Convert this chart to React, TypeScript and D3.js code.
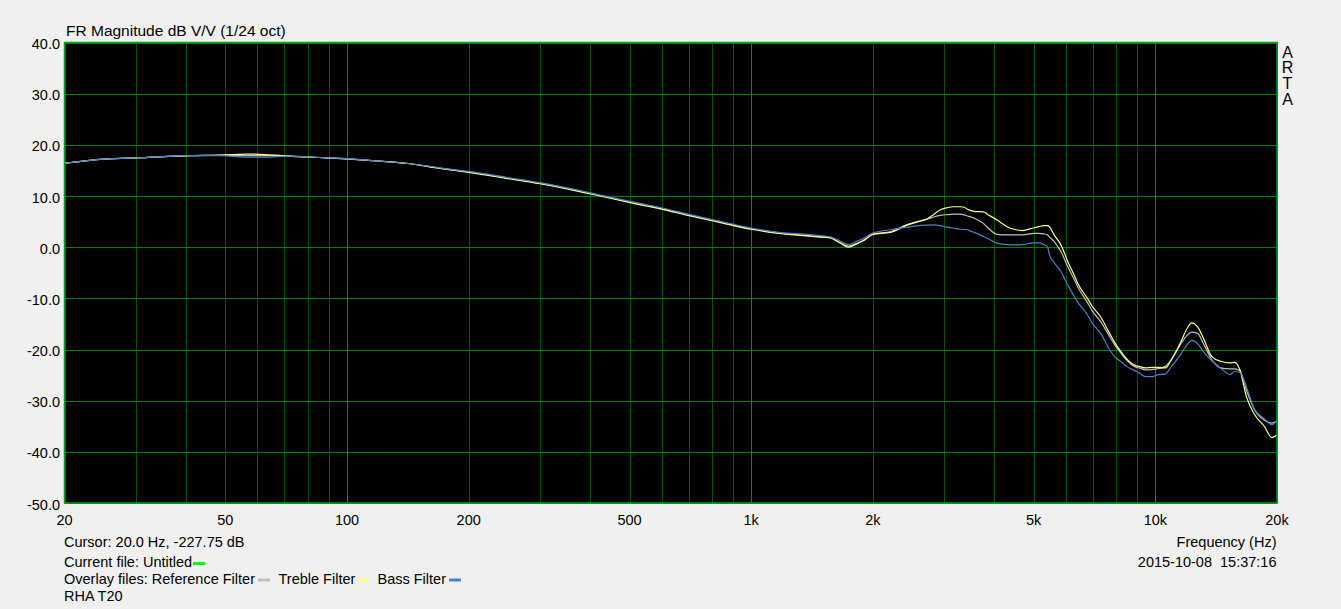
import React from "react";
import * as d3 from "d3";

const freqs = [20, 25, 31, 41, 49, 56, 63, 72, 87, 100, 116, 140, 170, 200, 250, 300, 350, 423, 502, 596, 707, 840, 1000, 1170, 1325, 1460, 1570, 1660, 1742, 1830, 1900, 2000, 2210, 2431, 2570, 2725, 2830, 2939, 3050, 3171, 3300, 3365, 3430, 3500, 3565, 3760, 3830, 4060, 4300, 4470, 4690, 5010, 5150, 5300, 5410, 5470, 5620, 5870, 6070, 6300, 6420, 6790, 7000, 7320, 7700, 8000, 8200, 8460, 8980, 9120, 9450, 9830, 10080, 10600, 10900, 11540, 12000, 12300, 12700, 13200, 13800, 14500, 15300, 15700, 16200, 16800, 17600, 18600, 19400, 20000];

const referenceFilter = [16.4, 17.2, 17.5, 17.9, 18.0, 17.9, 17.9, 17.8, 17.5, 17.25, 16.9, 16.4, 15.4, 14.7, 13.5, 12.5, 11.5, 10.1, 8.8, 7.6, 6.2, 4.9, 3.6, 2.8, 2.4, 2.1, 1.9, 0.9, 0.2, 0.8, 1.4, 2.6, 3.0, 4.4, 5.0, 5.5, 5.9, 6.2, 6.35, 6.45, 6.45, 6.3, 6.1, 5.9, 5.66, 4.6, 4.0, 2.5, 2.4, 2.4, 2.4, 2.7, 2.7, 2.6, 2.4, 2.0, 1.1, -1.2, -3.8, -6.3, -7.7, -10.8, -12.6, -14.5, -17.4, -19.5, -20.6, -21.9, -23.5, -23.6, -24.0, -23.9, -23.8, -23.3, -22.2, -19.0, -17.2, -16.6, -16.8, -19.1, -22.0, -23.6, -23.8, -23.8, -24.2, -27.9, -31.8, -33.8, -34.4, -34.0];

const trebleFilter = [16.4, 17.2, 17.5, 17.9, 18.0, 18.2, 18.1, 17.8, 17.5, 17.25, 16.9, 16.4, 15.4, 14.6, 13.4, 12.4, 11.4, 10.0, 8.7, 7.5, 6.1, 4.8, 3.5, 2.7, 2.3, 2.0, 1.8, 0.8, 0.0, 0.7, 1.3, 2.5, 2.9, 4.3, 4.9, 5.5, 6.4, 7.3, 7.7, 7.9, 7.9, 7.8, 7.4, 7.15, 7.0, 6.9, 6.5, 5.3, 4.0, 3.5, 3.25, 3.8, 4.0, 4.2, 4.2, 4.0, 2.4, 0.1, -2.8, -5.5, -7.0, -10.0, -11.7, -13.6, -16.8, -19.1, -20.3, -21.7, -23.2, -23.3, -23.6, -23.5, -23.5, -23.6, -22.3, -18.7, -15.8, -14.8, -15.5, -18.1, -21.4, -22.3, -22.6, -22.5, -24.0, -29.2, -32.7, -35.0, -37.2, -36.7];

const bassFilter = [16.4, 17.2, 17.5, 17.9, 17.9, 17.6, 17.6, 17.8, 17.5, 17.3, 16.9, 16.4, 15.5, 14.8, 13.6, 12.6, 11.6, 10.2, 8.95, 7.75, 6.35, 5.05, 3.75, 2.9, 2.6, 2.3, 2.0, 1.2, 0.5, 1.2, 1.75, 2.75, 3.4, 3.9, 4.16, 4.3, 4.35, 4.2, 3.9, 3.7, 3.5, 3.45, 3.4, 3.1, 2.9, 2.1, 1.8, 0.8, 0.5, 0.45, 0.5, 0.85, 0.85, 0.5, 0.1, -1.5, -3.0, -5.1, -7.4, -9.6, -10.7, -13.2, -15.0, -16.8, -20.0, -21.7, -22.3, -23.2, -24.3, -24.6, -25.3, -25.3, -25.0, -24.75, -23.6, -21.0, -19.0, -18.2, -18.8, -20.6, -22.2, -23.6, -24.9, -24.3, -24.5, -27.3, -31.7, -33.5, -34.7, -33.8];

const xTickValues = [20, 50, 100, 200, 500, 1000, 2000, 5000, 10000, 20000];
const xTickLabels = ["20", "50", "100", "200", "500", "1k", "2k", "5k", "10k", "20k"];
const yTickValues = [40, 30, 20, 10, 0, -10, -20, -30, -40, -50];
const yTickLabels = ["40.0", "30.0", "20.0", "10.0", "0.0", "-10.0", "-20.0", "-30.0", "-40.0", "-50.0"];
const gridFreqs = [20, 30, 40, 50, 60, 70, 80, 90, 100, 200, 300, 400, 500, 600, 700, 800, 900, 1000, 2000, 3000, 4000, 5000, 6000, 7000, 8000, 9000, 10000, 20000];
const decadeFreqs = [100, 1000, 10000];
const artaLetters = ["A", "R", "T", "A"];

const series = [
  { name: "Reference Filter", values: referenceFilter, color: "#c0c0c0" },
  { name: "Treble Filter", values: trebleFilter, color: "#ffff80" },
  { name: "Bass Filter", values: bassFilter, color: "#4a82c8" },
];

const FONT = "'Liberation Sans', Arial, sans-serif";

export default function App() {
  const L = 64.5, R = 1277, T = 42.5, B = 503;
  const x = d3.scaleLog().domain([20, 20000]).range([L, R]);
  const y = d3.scaleLinear().domain([-50, 40]).range([B, T]);
  const line = d3
    .line<number>()
    .x((_, i) => x(freqs[i]))
    .y((d) => y(d))
    .curve(d3.curveMonotoneX);

  return (
    <svg
      width={1341}
      height={609}
      style={{ position: "absolute", left: 0, top: 0, background: "#f0f0f0" }}
      fontFamily={FONT}
    >
      <rect x={0} y={0} width={1341} height={609} fill="#f0f0f0" />
      <rect x={L} y={T} width={R - L} height={B - T} fill="#000" />
      {gridFreqs.map((f) => (
        <line
          key={"v" + f}
          x1={Math.round(x(f)) + 0.5}
          x2={Math.round(x(f)) + 0.5}
          y1={T}
          y2={B}
          stroke={decadeFreqs.includes(f) ? "#009000" : "#005800"}
          strokeWidth={1}
        />
      ))}
      {yTickValues.map((v) => (
        <line
          key={"h" + v}
          x1={L}
          x2={R}
          y1={Math.round(y(v)) + 0.5}
          y2={Math.round(y(v)) + 0.5}
          stroke="#008000"
          strokeWidth={1}
        />
      ))}
      {series.map((s) => (
        <path key={s.name} d={line(s.values) || ""} fill="none" stroke={s.color} strokeWidth={1.2} />
      ))}
      <rect x={L} y={T} width={R - L} height={B - T} fill="none" stroke="#00a020" strokeWidth={1.5} />

      <text x={66} y={36} fontSize={15.5} fill="#000">FR Magnitude dB V/V (1/24 oct)</text>

      {yTickValues.map((v, i) => (
        <text key={"yl" + v} x={60} y={y(v) + 6.5} fontSize={14.5} textAnchor="end" fill="#000">
          {yTickLabels[i]}
        </text>
      ))}
      {xTickValues.map((v, i) => (
        <text key={"xl" + v} x={x(v)} y={525} fontSize={14.5} textAnchor="middle" fill="#000">
          {xTickLabels[i]}
        </text>
      ))}

      {artaLetters.map((c, i) => (
        <text key={"a" + i} x={1287.5} y={57.5 + i * 15.7} fontSize={16} textAnchor="middle" fill="#000">
          {c}
        </text>
      ))}

      <text x={64} y={546.5} fontSize={14.5} fill="#000">Cursor: 20.0 Hz, -227.75 dB</text>
      <text x={64} y={567} fontSize={14.5} fill="#000">Current file: Untitled</text>
      <rect x={193} y={562} width={12} height={3} fill="#00ff00" />
      <text x={64} y={584} fontSize={14.5} fill="#000">Overlay files: Reference Filter</text>
      <rect x={258} y={578.5} width={12} height={3} fill="#c0c0c0" />
      <text x={278.5} y={584} fontSize={14.5} fill="#000">Treble Filter</text>
      <rect x={357} y={578.5} width={12} height={3} fill="#ffff88" />
      <text x={377.5} y={584} fontSize={14.5} fill="#000">Bass Filter</text>
      <rect x={449} y={578.5} width={12} height={3} fill="#4a82c8" />
      <text x={64} y={601} fontSize={14.5} fill="#000">RHA T20</text>

      <text x={1276.5} y={546.5} fontSize={14.5} textAnchor="end" fill="#000">Frequency (Hz)</text>
      <text x={1276.5} y={567} fontSize={14.5} textAnchor="end" fill="#000" style={{ whiteSpace: "pre" }}>
        {"2015-10-08  15:37:16"}
      </text>
    </svg>
  );
}
